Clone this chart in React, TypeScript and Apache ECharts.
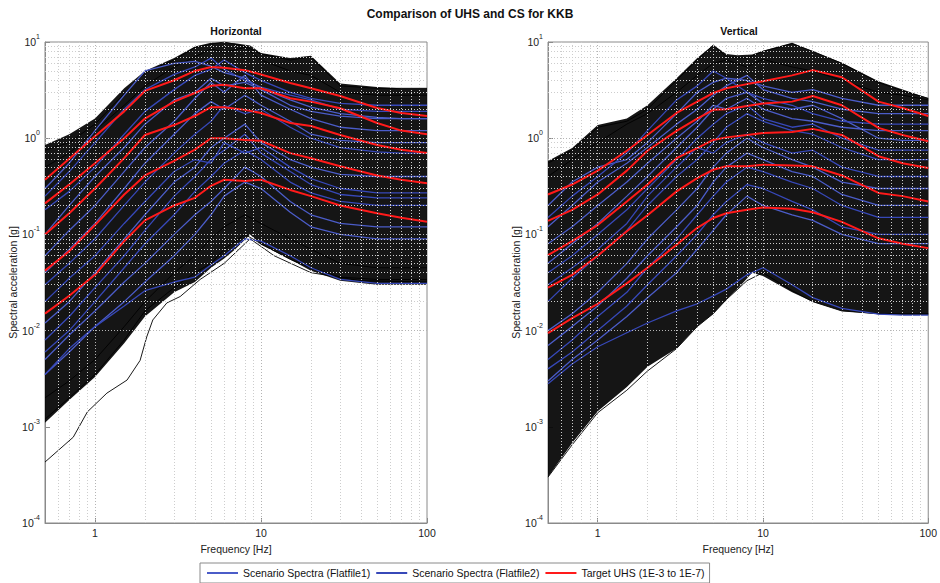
import React, { useEffect, useRef } from 'react';
import * as echarts from 'echarts';

const FONT = 'Liberation Sans, Arial, Helvetica, sans-serif';
const TITLE = 'Comparison of UHS and CS for KKB';
const PANEL_TITLES = ['Horizontal', 'Vertical'];
const FF1 = 'Scenario Spectra (Flatfile1)';
const FF2 = 'Scenario Spectra (Flatfile2)';
const UHS = 'Target UHS (1E-3 to 1E-7)';

// common frequency grid of the curves [Hz]
const FREQ = [0.5, 0.7, 1, 1.5, 2, 3, 4, 5, 6, 8, 10, 15, 20, 30, 50, 70, 100];
// frequency grid of the envelopes of the dense black family
const ENV_F = [0.5, 0.7, 1, 1.5, 2, 3, 4, 5, 6, 7, 8.6, 10, 15, 20, 30, 50, 70, 100];

// ---------- Horizontal ----------
const H_UHS = [
  [0.37, 0.61, 1.05, 1.9, 3.1, 4.0, 5.0, 5.5, 5.4, 5.1, 4.6, 3.75, 3.3, 2.75, 2.06, 1.83, 1.7],
  [0.21, 0.33, 0.55, 1.0, 1.6, 2.4, 2.95, 3.5, 3.6, 3.3, 3.3, 2.6, 2.4, 2.05, 1.44, 1.2, 1.1],
  [0.10, 0.166, 0.30, 0.62, 1.08, 1.37, 1.7, 2.1, 2.1, 1.97, 1.83, 1.44, 1.34, 1.08, 0.85, 0.76, 0.70],
  [0.042, 0.067, 0.125, 0.26, 0.41, 0.58, 0.76, 1.0, 1.0, 0.96, 0.94, 0.70, 0.62, 0.51, 0.41, 0.37, 0.34],
  [0.015, 0.023, 0.038, 0.085, 0.14, 0.20, 0.24, 0.32, 0.37, 0.36, 0.37, 0.29, 0.25, 0.20, 0.166, 0.149, 0.135],
];
const H_UPPER = [0.85, 1.1, 1.6, 3.3, 5.0, 6.8, 9.0, 9.8, 9.9, 9.7, 9.2, 7.7, 6.8, 7.2, 3.7, 3.4, 3.3, 3.3];
const H_LOWER = [0.0011, 0.0019, 0.0033, 0.0074, 0.014, 0.025, 0.032, 0.045, 0.056, 0.07, 0.1, 0.078, 0.055, 0.042, 0.033, 0.030, 0.030, 0.030];
const H_BLUE1 = [
  [0.30, 0.55, 1.2, 2.8, 5.0, 6.0, 6.3, 5.6, 4.8, 4.2, 3.3, 2.5, 2.1, 1.8, 1.65, 1.6, 1.6],
  [0.06, 0.11, 0.2, 0.45, 0.8, 1.5, 2.6, 3.8, 3.0, 4.5, 2.8, 2.0, 1.6, 1.3, 1.2, 1.2, 1.2],
  [0.012, 0.02, 0.04, 0.09, 0.16, 0.35, 0.5, 0.8, 1.0, 1.4, 0.9, 0.6, 0.5, 0.42, 0.4, 0.4, 0.4],
  [0.0035, 0.006, 0.011, 0.02, 0.032, 0.06, 0.1, 0.16, 0.25, 0.35, 0.3, 0.17, 0.12, 0.1, 0.09, 0.09, 0.09],
  [0.1, 0.2, 0.4, 0.8, 1.4, 2.5, 3.0, 4.2, 3.5, 3.8, 3.2, 2.2, 1.9, 1.7, 1.6, 1.6, 1.6],
  [0.04, 0.07, 0.13, 0.3, 0.55, 1.1, 1.8, 2.4, 2.0, 2.8, 2.2, 1.5, 1.1, 0.95, 0.9, 0.9, 0.9],
  [0.005, 0.009, 0.016, 0.032, 0.05, 0.1, 0.16, 0.22, 0.3, 0.5, 0.4, 0.22, 0.16, 0.13, 0.12, 0.12, 0.12],
];
const H_BLUE2 = [
  [0.18, 0.28, 0.5, 1.1, 1.9, 3.2, 4.5, 5.2, 6.5, 4.8, 4.0, 3.0, 2.6, 2.3, 2.2, 2.2, 2.2],
  [0.03, 0.05, 0.09, 0.2, 0.35, 0.7, 1.1, 1.5, 2.2, 1.8, 2.0, 1.3, 1.0, 0.8, 0.72, 0.7, 0.7],
  [0.006, 0.01, 0.02, 0.045, 0.08, 0.16, 0.28, 0.4, 0.55, 0.75, 0.6, 0.35, 0.27, 0.22, 0.2, 0.2, 0.2],
  [0.0035, 0.0065, 0.011, 0.018, 0.026, 0.032, 0.036, 0.048, 0.06, 0.09, 0.085, 0.06, 0.045, 0.034, 0.031, 0.031, 0.031],
  [0.02, 0.035, 0.06, 0.13, 0.22, 0.45, 0.6, 0.55, 0.9, 0.7, 0.8, 0.5, 0.38, 0.3, 0.27, 0.27, 0.27],
  [0.25, 0.45, 0.9, 2.0, 3.2, 4.6, 5.5, 6.8, 5.2, 4.0, 3.4, 2.8, 2.5, 2.0, 1.9, 1.9, 1.9],
  [0.008, 0.014, 0.028, 0.06, 0.11, 0.25, 0.4, 0.6, 0.75, 1.1, 0.7, 0.45, 0.33, 0.26, 0.24, 0.24, 0.24],
];
const H_BLACK = [
  [0.75, 0.9, 1.4, 2.9, 4.8, 6.5, 8.8, 9.5, 10, 9.0, 7.5, 6.5, 7.0, 3.5, 3.3, 3.3, 3.3],
  [0.5, 0.7, 1.2, 2.2, 3.5, 5.5, 7.0, 8.5, 7.8, 8.8, 6.5, 5.0, 4.5, 3.0, 2.8, 2.8, 2.8],
  [0.0012, 0.002, 0.0035, 0.008, 0.016, 0.028, 0.04, 0.05, 0.07, 0.1, 0.08, 0.055, 0.045, 0.036, 0.034, 0.034, 0.034],
  [0.002, 0.003, 0.005, 0.011, 0.02, 0.04, 0.06, 0.09, 0.12, 0.16, 0.13, 0.09, 0.07, 0.05, 0.045, 0.045, 0.045],
];
const H_LONE_F = [0.5, 0.74, 0.9, 1.18, 1.56, 1.87, 2.05, 2.23, 2.71, 3.26, 4.3, 6, 8.6, 12, 20, 40, 100];
const H_LONE = [0.00043, 0.00078, 0.00143, 0.00224, 0.00306, 0.0049, 0.0086, 0.0129, 0.0194, 0.0226, 0.034, 0.05, 0.09, 0.06, 0.04, 0.033, 0.032];

// ---------- Vertical ----------
const V_UHS = [
  [0.26, 0.33, 0.46, 0.74, 1.08, 1.83, 2.4, 2.95, 3.3, 3.65, 3.9, 4.5, 5.1, 4.3, 2.4, 2.06, 1.7],
  [0.138, 0.18, 0.26, 0.46, 0.74, 1.19, 1.6, 1.97, 2.0, 2.16, 2.3, 2.4, 2.75, 2.2, 1.28, 1.08, 0.93],
  [0.061, 0.085, 0.125, 0.22, 0.33, 0.62, 0.79, 0.96, 1.02, 1.08, 1.13, 1.16, 1.25, 1.08, 0.65, 0.55, 0.49],
  [0.028, 0.038, 0.06, 0.108, 0.158, 0.28, 0.385, 0.47, 0.51, 0.51, 0.53, 0.52, 0.51, 0.41, 0.27, 0.25, 0.22],
  [0.0094, 0.0135, 0.019, 0.031, 0.045, 0.078, 0.117, 0.148, 0.166, 0.18, 0.19, 0.185, 0.17, 0.135, 0.091, 0.08, 0.072],
];
const V_UPPER = [0.58, 0.79, 1.37, 1.6, 2.2, 4.2, 6.8, 9.3, 7.5, 7.3, 7.4, 8.1, 9.8, 8.0, 6.1, 3.9, 3.2, 2.6];
const V_LOWER = [0.0003, 0.00068, 0.00145, 0.0026, 0.0042, 0.0065, 0.011, 0.015, 0.021, 0.027, 0.04, 0.037, 0.025, 0.02, 0.016, 0.0148, 0.0145, 0.0145];
const V_BLUE1 = [
  [0.2, 0.35, 0.5, 0.6, 0.9, 1.8, 3.0, 3.8, 4.2, 4.0, 3.5, 3.0, 3.2, 2.6, 2.2, 2.2, 2.2],
  [0.05, 0.08, 0.13, 0.25, 0.4, 0.8, 1.3, 2.0, 2.6, 3.0, 2.3, 2.0, 2.2, 1.6, 1.0, 0.95, 0.95],
  [0.01, 0.015, 0.025, 0.05, 0.09, 0.18, 0.3, 0.5, 0.7, 1.0, 0.8, 0.6, 0.5, 0.35, 0.3, 0.3, 0.3],
  [0.003, 0.005, 0.008, 0.014, 0.022, 0.04, 0.07, 0.11, 0.16, 0.25, 0.2, 0.16, 0.14, 0.1, 0.08, 0.08, 0.08],
  [0.08, 0.12, 0.2, 0.35, 0.55, 1.0, 1.5, 2.2, 2.0, 2.6, 2.0, 1.6, 1.5, 1.3, 1.2, 1.2, 1.2],
  [0.12, 0.2, 0.35, 0.55, 0.8, 1.4, 2.0, 2.8, 3.5, 4.5, 3.2, 2.6, 2.4, 2.0, 1.8, 1.8, 1.8],
  [0.007, 0.011, 0.018, 0.035, 0.06, 0.12, 0.2, 0.35, 0.5, 0.7, 0.6, 0.45, 0.4, 0.26, 0.2, 0.2, 0.2],
];
const V_BLUE2 = [
  [0.15, 0.25, 0.4, 0.7, 1.2, 2.5, 3.5, 5.0, 4.2, 3.0, 2.6, 2.2, 1.8, 1.5, 1.4, 1.4, 1.4],
  [0.02, 0.035, 0.06, 0.11, 0.2, 0.4, 0.6, 0.9, 1.3, 1.8, 1.5, 1.2, 1.1, 0.8, 0.6, 0.6, 0.6],
  [0.005, 0.008, 0.014, 0.025, 0.045, 0.09, 0.16, 0.25, 0.35, 0.5, 0.45, 0.35, 0.3, 0.2, 0.15, 0.15, 0.15],
  [0.0028, 0.0045, 0.0068, 0.0095, 0.012, 0.016, 0.019, 0.023, 0.027, 0.038, 0.045, 0.03, 0.022, 0.017, 0.0148, 0.0145, 0.0145],
  [0.03, 0.045, 0.07, 0.13, 0.25, 0.5, 0.8, 0.7, 0.9, 1.1, 0.9, 0.7, 0.75, 0.5, 0.4, 0.4, 0.4],
  [0.04, 0.06, 0.1, 0.18, 0.3, 0.6, 1.0, 1.4, 1.8, 2.2, 1.6, 1.3, 1.4, 1.0, 0.75, 0.75, 0.75],
  [0.004, 0.006, 0.01, 0.018, 0.03, 0.06, 0.1, 0.16, 0.22, 0.33, 0.3, 0.22, 0.18, 0.12, 0.1, 0.1, 0.1],
];
const V_BLACK = [
  [0.0003, 0.00065, 0.0014, 0.0024, 0.0038, 0.0065, 0.011, 0.015, 0.021, 0.033, 0.04, 0.026, 0.02, 0.016, 0.015, 0.015, 0.015],
  [0.55, 0.75, 1.3, 1.5, 2.0, 4.0, 6.5, 9.3, 7.0, 6.8, 8.0, 9.6, 8.0, 6.0, 3.8, 3.1, 2.6],
  [0.4, 0.6, 0.9, 1.4, 1.8, 3.0, 4.5, 6.0, 6.5, 5.5, 6.6, 5.5, 5.0, 4.0, 3.0, 2.8, 2.5],
];

// grid line positions
const X_MINOR = [0.6, 0.7, 0.8, 0.9, 2, 3, 4, 5, 6, 7, 8, 9, 20, 30, 40, 50, 60, 70, 80, 90];
const X_MAJOR = [1, 10];
const Y_EXPS = [-4, -3, -2, -1, 0];
const MANTISSAS = [2, 3, 4, 5, 6, 7, 8, 9];
const Y_MAJOR = [0.001, 0.01, 0.1, 1];

const BLUE1 = '#4b5cc8';
const BLUE2 = '#3748b8';
const RED = '#ff1a1a';

const pair = (fs: number[], vs: number[]) => fs.map((f, i) => [f, vs[i]]);

function line(g: number, values: number[], color: string, width: number, z: number, name?: string, fs: number[] = FREQ) {
  const s: any = {
    type: 'line',
    xAxisIndex: g,
    yAxisIndex: g,
    data: pair(fs, values),
    symbol: 'none',
    showSymbol: false,
    silent: true,
    clip: true,
    z,
    lineStyle: { color, width },
    itemStyle: { color },
    emphasis: { disabled: true },
  };
  if (name) s.name = name;
  return s;
}

function envelope(g: number, upper: number[], lower: number[]) {
  return {
    type: 'custom',
    xAxisIndex: g,
    yAxisIndex: g,
    data: [[1, 1]],
    silent: true,
    clip: true,
    z: 1,
    renderItem: (_p: any, api: any) => {
      const pts: number[][] = [];
      ENV_F.forEach((f, i) => pts.push(api.coord([f, upper[i]])));
      for (let i = ENV_F.length - 1; i >= 0; i--) pts.push(api.coord([ENV_F[i], lower[i]]));
      return { type: 'polygon', shape: { points: pts }, style: { fill: '#030303', opacity: 0.93 } };
    },
  };
}

function gridLines(g: number) {
  const minor = { color: '#cdcdcd', type: [1, 2], width: 1 };
  const major = { color: '#b4b4b4', type: [1, 2], width: 1 };
  const data: any[] = [];
  X_MINOR.forEach((v) => data.push({ xAxis: v, lineStyle: minor }));
  X_MAJOR.forEach((v) => data.push({ xAxis: v, lineStyle: major }));
  Y_EXPS.forEach((e) => MANTISSAS.forEach((m) => data.push({ yAxis: m * Math.pow(10, e), lineStyle: minor })));
  Y_MAJOR.forEach((v) => data.push({ yAxis: v, lineStyle: major }));
  return {
    type: 'line',
    xAxisIndex: g,
    yAxisIndex: g,
    data: [[1, 1]],
    symbol: 'none',
    silent: true,
    z: 0,
    lineStyle: { opacity: 0 },
    markLine: {
      silent: true,
      symbol: ['none', 'none'],
      label: { show: false },
      emphasis: { disabled: true },
      animation: false,
      data,
    },
  };
}

function panelSeries(g: number, uhs: number[][], up: number[], lo: number[], b1: number[][], b2: number[][], blacks: number[][]) {
  const out: any[] = [gridLines(g), envelope(g, up, lo)];
  blacks.forEach((v) => out.push(line(g, v, '#000', 0.9, 2)));
  b1.forEach((v) => out.push(line(g, v, BLUE1, 1.3, 3, FF1)));
  b2.forEach((v) => out.push(line(g, v, BLUE2, 1.3, 3, FF2)));
  uhs.forEach((v) => out.push(line(g, v, RED, 2, 4, UHS)));
  return out;
}

const GRIDS = [
  { left: 45, top: 42, width: 382, height: 481 },
  { left: 548, top: 42, width: 382, height: 481 },
];

export default function App() {
  const ref = useRef<HTMLDivElement>(null);
  useEffect(() => {
    document.body.style.margin = '0';
    if (!ref.current) return;
    const chart = echarts.init(ref.current, undefined, { renderer: 'svg' });
    const isPow = (v: number) => Math.abs(Math.log10(v) - Math.round(Math.log10(v))) < 1e-6;
    const xAxis = [0, 1].map((g) => ({
      type: 'log',
      logBase: 10,
      gridIndex: g,
      min: 0.5,
      max: 100,
      axisLine: { show: true, lineStyle: { color: '#8a8a8a' } },
      axisTick: { show: true, inside: true, length: 5, lineStyle: { color: '#8a8a8a' } },
      splitLine: { show: false },
      axisLabel: {
        margin: 4,
        fontSize: 10.5,
        color: '#222',
        fontFamily: FONT,
        formatter: (v: number) => (isPow(v) ? String(Math.round(v)) : ''),
      },
      name: 'Frequency [Hz]',
      nameLocation: 'middle',
      nameGap: 20,
      nameTextStyle: { fontSize: 10.5, color: '#222', fontFamily: FONT },
    }));
    const yAxis = [0, 1].map((g) => ({
      type: 'log',
      logBase: 10,
      gridIndex: g,
      min: 0.0001,
      max: 10,
      axisLine: { show: true, lineStyle: { color: '#8a8a8a' } },
      axisTick: { show: true, inside: true, length: 5, lineStyle: { color: '#8a8a8a' } },
      splitLine: { show: false },
      axisLabel: {
        margin: 5,
        color: '#222',
        fontFamily: FONT,
        formatter: (v: number) => `{b|10}{s|${Math.round(Math.log10(v))}}`,
        rich: {
          b: { fontSize: 10.5, lineHeight: 18, color: '#222', fontFamily: FONT },
          s: { fontSize: 7, lineHeight: 8, verticalAlign: 'top', color: '#222', fontFamily: FONT },
        },
      },
      name: 'Spectral acceleration [g]',
      nameLocation: 'middle',
      nameGap: 27,
      nameRotate: 90,
      nameTextStyle: { fontSize: 10.5, color: '#222', fontFamily: FONT },
    }));
    const series = [
      ...panelSeries(0, H_UHS, H_UPPER, H_LOWER, H_BLUE1, H_BLUE2, H_BLACK),
      line(0, H_LONE, '#000', 0.9, 2, undefined, H_LONE_F),
      ...panelSeries(1, V_UHS, V_UPPER, V_LOWER, V_BLUE1, V_BLUE2, V_BLACK),
    ];
    chart.setOption({
      animation: false,
      backgroundColor: '#fff',
      textStyle: { fontFamily: FONT },
      grid: GRIDS.map((g) => ({ ...g, show: true, borderColor: '#8a8a8a', borderWidth: 1, backgroundColor: 'transparent' })),
      xAxis,
      yAxis,
      legend: {
        data: [
          { name: FF1, icon: 'rect', itemStyle: { color: BLUE1 } },
          { name: FF2, icon: 'rect', itemStyle: { color: BLUE2 } },
          { name: UHS, icon: 'rect', itemStyle: { color: RED } },
        ],
        left: 200,
        top: 563,
        itemWidth: 31,
        itemHeight: 2,
        itemGap: 6,
        padding: [4, 5, 4, 7],
        borderColor: '#8a8a8a',
        borderWidth: 1,
        selectedMode: false,
        textStyle: { fontSize: 10.5, color: '#111', fontFamily: FONT, lineHeight: 12 },
      },
      graphic: [
        { type: 'text', x: 470, y: 14, style: { text: TITLE, font: `bold 12px ${FONT}`, fill: '#111', textAlign: 'center', textVerticalAlign: 'middle' } },
        { type: 'text', x: 236, y: 31, style: { text: PANEL_TITLES[0], font: `bold 10.5px ${FONT}`, fill: '#111', textAlign: 'center', textVerticalAlign: 'middle' } },
        { type: 'text', x: 739, y: 31, style: { text: PANEL_TITLES[1], font: `bold 10.5px ${FONT}`, fill: '#111', textAlign: 'center', textVerticalAlign: 'middle' } },
      ],
      series,
    });
    return () => chart.dispose();
  }, []);
  return <div ref={ref} style={{ position: 'absolute', left: 0, top: 0, width: 940, height: 583 }} />;
}
